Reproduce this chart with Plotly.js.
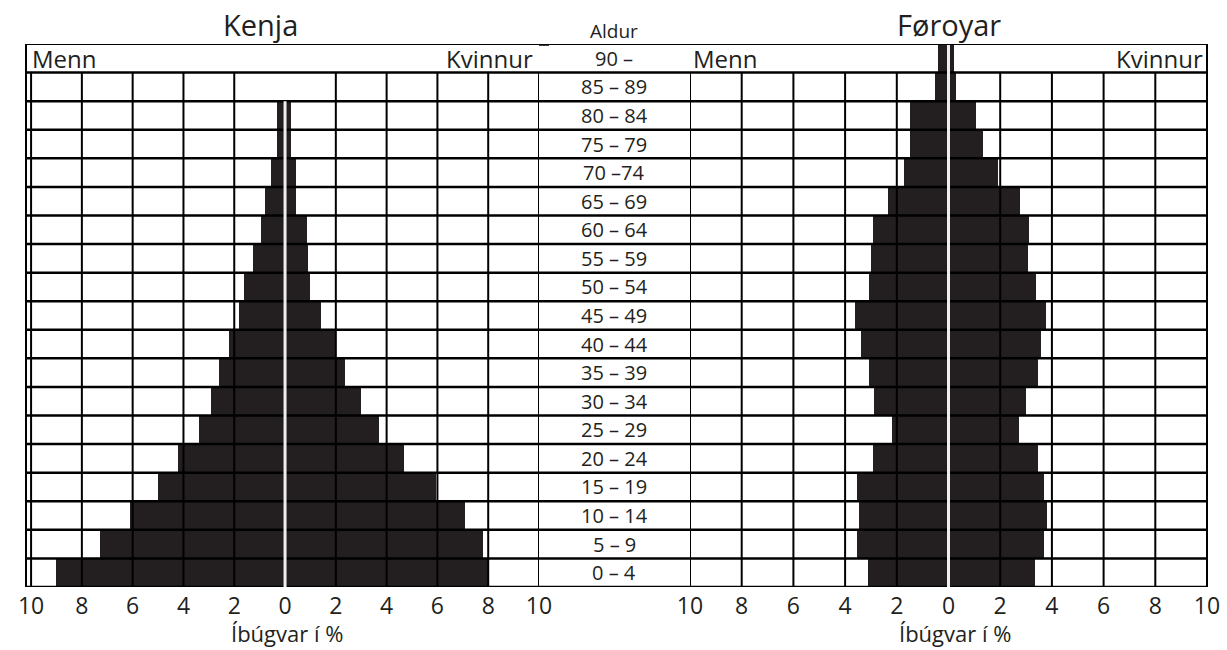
<!DOCTYPE html>
<html>
<head>
<meta charset="utf-8">
<script src="https://cdn.plot.ly/plotly-3.0.1.min.js"></script>
<style>html,body{margin:0;padding:0;background:#fff;}#chart{width:1227px;height:650px;}</style>
</head>
<body>
<div id="chart"></div>
<script>
// ---- data (bottom row first) ----
const ageGroups = ["0 – 4","5 – 9","10 – 14","15 – 19","20 – 24","25 – 29","30 – 34","35 – 39","40 – 44","45 – 49","50 – 54","55 – 59","60 – 64","65 – 69","70 –74","75 – 79","80 – 84","85 – 89","90 –"];
const kenyaMen    = [9.0, 7.3, 6.1, 5.0, 4.2, 3.4, 2.9, 2.6, 2.2, 1.8, 1.6, 1.25, 0.95, 0.8, 0.55, 0.3, 0.3, 0, 0];
const kenyaWomen  = [8.0, 7.8, 7.1, 5.95, 4.7, 3.7, 3.0, 2.35, 2.0, 1.4, 0.98, 0.9, 0.85, 0.45, 0.45, 0.25, 0.25, 0, 0];
const faroeMen    = [3.12, 3.54, 3.47, 3.54, 2.92, 2.18, 2.88, 3.08, 3.39, 3.62, 3.08, 3.0, 2.92, 2.35, 1.72, 1.49, 1.49, 0.52, 0.39];
const faroeWomen  = [3.33, 3.71, 3.82, 3.71, 3.47, 2.72, 2.98, 3.47, 3.57, 3.77, 3.38, 3.06, 3.1, 2.75, 1.9, 1.35, 1.08, 0.3, 0.2];
const tickVals = [-10,-8,-6,-4,-2,0,2,4,6,8,10];
const tickText = ["10","8","6","4","2","0","2","4","6","8","10"];
const titles = ["Kenja","Føroyar"];
const sexLabels = ["Menn","Kvinnur"];
const ageHeader = "Aldur";
const axisTitle = "Íbúgvar í %";

// ---- layout geometry ----
const W = 1227, H = 650, PTOP = 44, PBOT = 587;
const px = p => p / W;
const py = p => (PBOT - p) / (PBOT - PTOP);
const domK = [px(26), px(539)];
const domF = [px(690), px(1207)];
const INK = '#231f20';
const FONT = 'Open Sans, Arial, sans-serif';
const nRows = ageGroups.length;
const yTop = nRows - 0.5, yBot = -0.5, yHdr = nRows - 1.5;
// highest row that carries a bar (for the white centre line)
const lastRow = (m, w) => { let r = 0; m.forEach((v, i) => { if (v > 0 || w[i] > 0) r = i; }); return r + 0.5; };

const neg = a => a.map(v => -v);
const bar = (x, xa) => ({type:'bar', orientation:'h', y: ageGroups, x: x, xaxis: xa, yaxis:'y',
  marker:{color: INK, line:{width:0}}, hoverinfo:'x+y', showlegend:false});

const traces = [
  bar(neg(kenyaMen), 'x'), bar(kenyaWomen, 'x'),
  bar(neg(faroeMen), 'x2'), bar(faroeWomen, 'x2')
];

const shapes = [];
const ln = (xref, x0, x1, y0, y1, color, width) => shapes.push({type:'line', xref, yref:'y', x0, x1, y0, y1, layer:'above', line:{color, width}});
// horizontal row separators across whole table
for (let k = 0; k < nRows; k++) ln('paper', domK[0], domF[1], k - 0.5, k - 0.5, '#000', 2.5);
// vertical grid lines
['x','x2'].forEach(xr => {
  tickVals.forEach(v => { if (v !== 0) ln(xr, v, v, yBot, yHdr, '#000', 2); });
});
ln('x domain', 0, 0, yBot, yTop, '#000', 2);
ln('x2 domain', 1, 1, yBot, yTop, '#000', 2);
// white centre lines
ln('x', 0, 0, yBot, lastRow(kenyaMen, kenyaWomen), '#eeeeee', 3);
ln('x2', 0, 0, yBot, lastRow(faroeMen, faroeWomen), '#eeeeee', 3);
// top border of the table (over the centre lines)
ln('paper', domK[0], domF[1], yTop, yTop, '#000', 2);
// small dash at top of middle column
ln('paper', px(539), px(549), yTop, yTop, '#000', 3.5);

const ann = [];
const A = (o) => ann.push(Object.assign({showarrow:false, font:{family:FONT, color:INK, size:20}}, o));
A({text: titles[0], xref:'paper', yref:'paper', x: px(260), y: py(25), xanchor:'center', yanchor:'middle', font:{family:FONT, color:INK, size:29}});
A({text: titles[1], xref:'paper', yref:'paper', x: px(949), y: py(25), xanchor:'center', yanchor:'middle', font:{family:FONT, color:INK, size:29}});
A({text: ageHeader, xref:'paper', yref:'paper', x: px(614.5), y: py(31), xanchor:'center', yanchor:'middle', font:{family:FONT, color:INK, size:19}});
const hdrCat = ageGroups[nRows - 1];
A({text: sexLabels[0], xref:'paper', yref:'y', x: px(30), y: hdrCat, xanchor:'left', yanchor:'middle', font:{family:FONT, color:INK, size:24}});
A({text: sexLabels[1], xref:'paper', yref:'y', x: px(535), y: hdrCat, xanchor:'right', yanchor:'middle', font:{family:FONT, color:INK, size:24}});
A({text: sexLabels[0], xref:'paper', yref:'y', x: px(691), y: hdrCat, xanchor:'left', yanchor:'middle', font:{family:FONT, color:INK, size:24}});
A({text: sexLabels[1], xref:'paper', yref:'y', x: px(1205), y: hdrCat, xanchor:'right', yanchor:'middle', font:{family:FONT, color:INK, size:24}});
ageGroups.forEach(g => A({text: g, xref:'paper', yref:'y', x: px(614.5), y: g, xanchor:'center', yanchor:'middle', font:{family:FONT, color:INK, size:20}}));
// axis titles
A({text: axisTitle, xref:'paper', yref:'paper', x: px(287), y: py(649), xanchor:'center', yanchor:'bottom', borderpad:0, font:{family:FONT, color:INK, size:22}});
A({text: axisTitle, xref:'paper', yref:'paper', x: px(955), y: py(649), xanchor:'center', yanchor:'bottom', borderpad:0, font:{family:FONT, color:INK, size:22}});

const xax = (dom, range) => ({domain: dom, range: range, anchor:'y', tickmode:'array', tickvals: tickVals, ticktext: tickText,
  ticks:'', showgrid:false, zeroline:false, showline:false, fixedrange:true, ticklabelstandoff: 3,
  tickfont:{family:FONT, size:23, color:INK}});

const layout = {
  width: W, height: H,
  margin:{l:0, r:0, t:PTOP, b:H - PBOT, pad:0},
  paper_bgcolor:'#fff', plot_bgcolor:'#fff',
  barmode:'overlay', bargap:0,
  showlegend:false,
  font:{family:FONT, color:INK},
  xaxis: xax(domK, [-10.2, 10]),
  xaxis2: xax(domF, [-10, 10]),
  yaxis:{type:'category', categoryorder:'array', categoryarray: ageGroups, range:[yBot, yTop],
    showticklabels:false, ticks:'', showgrid:false, zeroline:false, showline:false, fixedrange:true},
  shapes: shapes,
  annotations: ann
};

Plotly.newPlot('chart', traces, layout, {displayModeBar:false, staticPlot:true});
</script>
</body>
</html>
